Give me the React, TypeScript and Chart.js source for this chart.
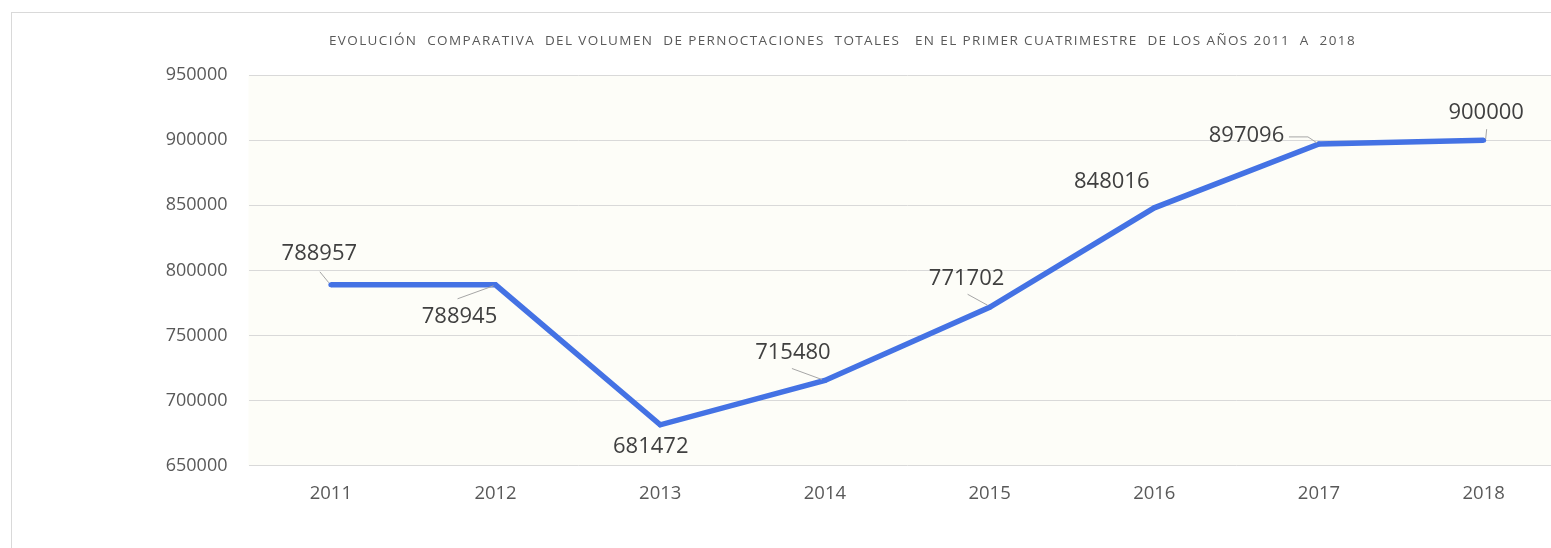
import React, { useEffect, useRef } from "react";
import { Chart, registerables } from "chart.js";

Chart.register(...registerables);

// ---- data ----
const years = ["2011", "2012", "2013", "2014", "2015", "2016", "2017", "2018"];
const overnightStays = [788957, 788945, 681472, 715480, 771702, 848016, 897096, 900000];
const yMin = 650000;
const yMax = 950000;
const yStep = 50000;
const titleText =
  "EVOLUCIÓN  COMPARATIVA  DEL VOLUMEN  DE PERNOCTACIONES  TOTALES   EN EL PRIMER CUATRIMESTRE  DE LOS AÑOS 2011  A  2018";

// ---- label placement (style, relative to each point) ----
const labelOffsets: [number, number][] = [
  [-11.5, -31],
  [-36, 32],
  [-9.5, 22],
  [-32, -28],
  [-23, -29],
  [-42.5, -26.5],
  [-72.5, -8],
  [2.5, -27],
];
const leaderPaths: ([number, number][] | null)[] = [
  [[-11, -13], [-2, -2]],
  [[-38, 14], [-2, 1]],
  null,
  [[-33, -12], [-3, -1]],
  [[-22, -13], [-2, -2]],
  null,
  [[-30, -7], [-11, -7], [-2, -1]],
  [[3, -11], [2, -1]],
];

const FONT = "'Open Sans', 'DejaVu Sans', sans-serif";

const plotBackground = {
  id: "plotBackground",
  beforeDraw(chart: any) {
    const { ctx, chartArea } = chart;
    ctx.save();
    ctx.fillStyle = "#fdfdf8";
    ctx.fillRect(chartArea.left, chartArea.top, chartArea.right - chartArea.left, chartArea.bottom - chartArea.top);
    ctx.restore();
  },
};

// draws the title text inside the title box reserved by Chart.js, with letter spacing
const spacedTitle = {
  id: "spacedTitle",
  afterDraw(chart: any) {
    const tb = chart.titleBlock;
    if (!tb) return;
    const { ctx } = chart;
    ctx.save();
    ctx.font = `13.5px ${FONT}`;
    (ctx as any).letterSpacing = "1.4px";
    ctx.fillStyle = "#595959";
    ctx.textAlign = "center";
    ctx.textBaseline = "middle";
    const pad = tb.options.padding;
    const cy = tb.top + pad.top + (tb.bottom - tb.top - pad.top - pad.bottom) / 2;
    ctx.fillText(tb.options.text, (tb.left + tb.right) / 2, cy);
    ctx.restore();
  },
};

const pointLabels = {
  id: "pointLabels",
  afterDatasetsDraw(chart: any) {
    const { ctx } = chart;
    const meta = chart.getDatasetMeta(0);
    ctx.save();
    meta.data.forEach((el: any, i: number) => {
      const x = el.x;
      const y = el.y;
      const path = leaderPaths[i];
      if (path) {
        ctx.strokeStyle = "#a6a6a6";
        ctx.lineWidth = 1;
        ctx.beginPath();
        path.forEach(([dx, dy], j) => {
          if (j === 0) ctx.moveTo(x + dx, y + dy);
          else ctx.lineTo(x + dx, y + dy);
        });
        ctx.stroke();
      }
      const [ox, oy] = labelOffsets[i];
      ctx.font = `22px ${FONT}`;
      ctx.fillStyle = "#404040";
      ctx.textAlign = "center";
      ctx.textBaseline = "middle";
      ctx.fillText(String(overnightStays[i]), x + ox, y + oy);
    });
    ctx.restore();
  },
};

export default function App() {
  const canvasRef = useRef<HTMLCanvasElement | null>(null);

  useEffect(() => {
    if (!canvasRef.current) return;
    const chart = new Chart(canvasRef.current, {
      type: "line",
      data: {
        labels: years,
        datasets: [
          {
            data: overnightStays,
            borderColor: "#4472E4",
            backgroundColor: "#4472E4",
            borderWidth: 5.5,
            pointRadius: 2.5,
            pointBorderWidth: 0,
            pointBackgroundColor: "#4472E4",
            tension: 0,
            fill: false,
          },
        ],
      },
      options: {
        responsive: false,
        animation: false,
        devicePixelRatio: 1,
        layout: { padding: { left: 119, right: 14, top: 0, bottom: 26 } },
        plugins: {
          legend: { display: false },
          tooltip: { enabled: false },
          title: {
            display: true,
            text: titleText,
            color: "rgba(0,0,0,0)",
            font: { family: FONT, size: 13, weight: "normal" },
            padding: { top: 33, bottom: 26.4 },
          },
        },
        scales: {
          x: {
            type: "category",
            offset: true,
            grid: { display: false, drawTicks: false },
            border: { display: false },
            ticks: {
              color: "#595959",
              font: { family: FONT, size: 18.5 },
              padding: 17,
              maxRotation: 0,
            },
          },
          y: {
            min: yMin,
            max: yMax,
            afterFit: (scale: any) => {
              scale.width = 129.5;
            },
            grid: { color: "#d9d9d9", lineWidth: 1, drawTicks: false },
            border: { display: false },
            ticks: {
              stepSize: yStep,
              color: "#595959",
              font: { family: FONT, size: 18 },
              padding: 21,
              callback: (v: any) => String(v),
            },
          },
        },
      },
      plugins: [plotBackground, pointLabels, spacedTitle],
    });
    return () => chart.destroy();
  }, []);

  return (
    <div
      style={{
        position: "absolute",
        left: 0,
        top: 0,
        width: 1551,
        height: 548,
        overflow: "hidden",
        background: "#ffffff",
      }}
    >
      <div
        style={{
          position: "absolute",
          left: 11,
          top: 12,
          width: 1700,
          height: 700,
          border: "1.5px solid #d9d9d9",
          boxSizing: "border-box",
        }}
      />
      <canvas
        ref={canvasRef}
        width={1580}
        height={548}
        style={{ position: "absolute", left: 0, top: 0, width: 1580, height: 548 }}
      />
    </div>
  );
}
